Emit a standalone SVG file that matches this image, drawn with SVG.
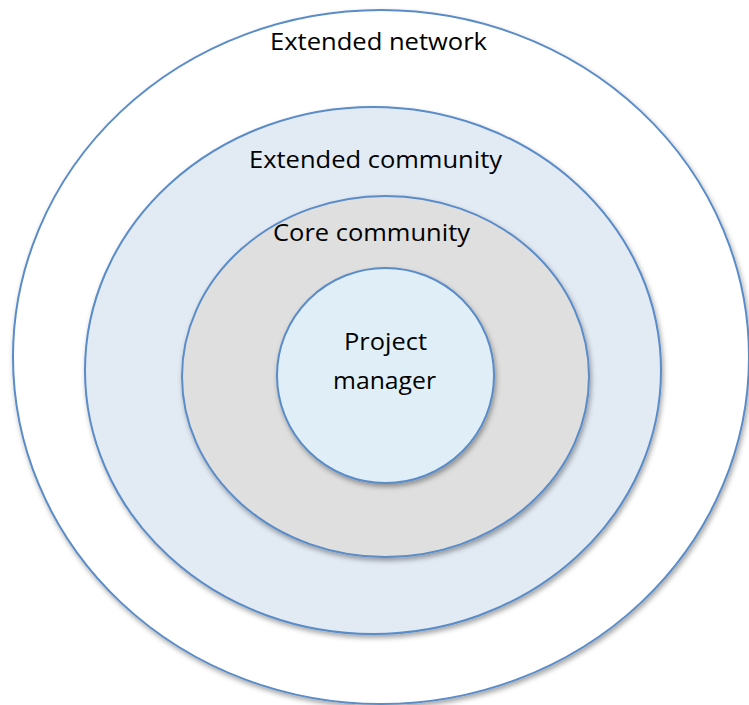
<svg xmlns="http://www.w3.org/2000/svg" width="749" height="705" viewBox="0 0 749 705">
  <defs>
    <filter id="shadow" x="-10%" y="-10%" width="120%" height="120%">
      <feDropShadow dx="1.5" dy="3" stdDeviation="2.5" flood-color="#000" flood-opacity="0.35"/>
    </filter>
  </defs>
  <style>
    .ring { stroke: #5A8CC8; stroke-width: 2; filter: url(#shadow); }
    .lbl { font-family: "Open Sans", "Liberation Sans", sans-serif; font-size: 24px; fill: #000; text-anchor: middle; }
  </style>
  <rect width="749" height="705" fill="#FFFFFF"/>
  <g id="extended-network">
    <ellipse class="ring" cx="381" cy="357" rx="368" ry="347" fill="#FFFFFF"/>
    <text class="lbl" x="378.5" y="49.5" textLength="217" lengthAdjust="spacingAndGlyphs">Extended network</text>
  </g>
  <g id="extended-community">
    <ellipse class="ring" cx="373" cy="370.5" rx="288" ry="263.5" fill="#E2EAF4"/>
    <text class="lbl" x="375.5" y="168.3" textLength="253" lengthAdjust="spacingAndGlyphs">Extended community</text>
  </g>
  <g id="core-community">
    <ellipse class="ring" cx="385.5" cy="376.5" rx="203.5" ry="180.5" fill="#DFDFDF"/>
    <text class="lbl" x="371.5" y="240.7" textLength="197" lengthAdjust="spacingAndGlyphs">Core community</text>
  </g>
  <g id="project-manager">
    <ellipse class="ring" cx="385.5" cy="375.5" rx="108.5" ry="107.5" fill="#E0EFF7"/>
    <text class="lbl" x="385.5" y="350" textLength="83" lengthAdjust="spacingAndGlyphs">Project</text>
    <text class="lbl" x="384.5" y="389.3" textLength="103" lengthAdjust="spacingAndGlyphs">manager</text>
  </g>
  <g id="connectors"/>
</svg>
